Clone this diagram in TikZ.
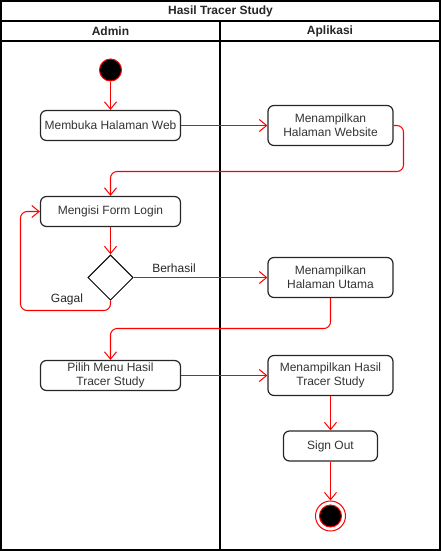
\documentclass[tikz,border=0pt]{standalone}
\usepackage{fontspec}
\setmainfont{Liberation Sans}
\usetikzlibrary{arrows.meta,shapes.geometric}
\definecolor{txt}{HTML}{333333}
\definecolor{flowred}{HTML}{FF0000}
\begin{document}
\begin{tikzpicture}[x=0.75pt,y=-0.75pt,
  act/.style={draw=black!85,line width=0.9pt,rounded corners=4.5pt,minimum width=105pt,minimum height=22.5pt,inner sep=0pt,align=center,font=\fontsize{9}{10.5}\selectfont,text=txt},
  actr/.style={act,minimum width=93.75pt,minimum height=30pt},
  flow/.style={draw=flowred,line width=0.8pt,rounded corners=5pt,-{Straight Barb[length=5.5pt,width=9pt,line width=0.75pt]}},
  lbl/.style={font=\fontsize{9}{10.5}\selectfont,text=black!85,inner sep=0pt},
  head/.style={font=\fontsize{9}{10.5}\selectfont\bfseries,text=black!85,inner sep=0pt}]
\useasboundingbox (0,0) rectangle (441,551);
% frame
\draw[line width=0.8pt] (1,1) rectangle (440,550);
\draw[line width=0.8pt] (1,21) -- (440,21);
\draw[line width=0.8pt] (1,41) -- (440,41);
\draw[line width=0.8pt] (220,21) -- (220,550);
\node[head] (title) at (220.5,11.5) {Hasil Tracer Study};
\node[head] (admin) at (110.5,31.5) {Admin};
\node[head] (apl) at (330,31.5) {Aplikasi};
% nodes
\node[circle,fill=black,draw=red,line width=0.75pt,minimum size=16.5pt,inner sep=0pt] (start) at (110.5,70) {};
\node[act] (web) at (110.5,125.5) {Membuka Halaman Web};
\node[actr] (site) at (330.5,125.5) {Menampilkan\\Halaman Website};
\node[act] (login) at (110.5,211.5) {Mengisi Form Login};
\node[diamond,draw=black,line width=0.75pt,minimum width=34pt,minimum height=34pt,inner sep=0pt] (dec) at (110.5,277.5) {};
\node[actr] (utama) at (330.5,277.5) {Menampilkan\\Halaman Utama};
\node[act] (pilih) at (110.5,375.5) {Pilih Menu Hasil\\Tracer Study};
\node[actr] (hasil) at (330.5,375.5) {Menampilkan Hasil\\Tracer Study};
\node[act,minimum width=70.5pt] (out) at (330.5,446) {Sign Out};
\node[circle,draw=red,fill=white,line width=0.75pt,minimum size=22.5pt,inner sep=0pt] (end) at (330.5,516) {};
\node[circle,fill=black,draw=red,line width=0.75pt,minimum size=16.5pt,inner sep=0pt] (endin) at (330.5,516) {};
\coordinate (c1) at (403.5,125.5);
\coordinate (c2) at (403.5,171.5);
\coordinate (c3) at (110.5,171.5);
\coordinate (g1) at (110.5,310.5);
\coordinate (g2) at (20.5,310.5);
\coordinate (g3) at (20.5,211.5);
\coordinate (u1) at (330.5,328.5);
\coordinate (u2) at (110.5,328.5);
% edges
\draw[flow] (start) -- (web);
\draw[flow] (web.east) -- (site.west);
\draw[flow] (site.east) -- (c1) -- (c2) -- (c3) -- (login.north);
\draw[flow] (login) -- (dec);
\draw[flow] (dec.east) -- (utama.west);
\draw[flow] (dec.south) -- (g1) -- (g2) -- (g3) -- (login.west);
\draw[flow] (utama.south) -- (u1) -- (u2) -- (pilih.north);
\draw[flow] (pilih.east) -- (hasil.west);
\draw[flow] (hasil) -- (out);
\draw[flow] (out) -- (end);
\node[lbl] (berhasil) at (174,268) {Berhasil};
\node[lbl] (gagal) at (67,299) {Gagal};
\end{tikzpicture}
\end{document}
